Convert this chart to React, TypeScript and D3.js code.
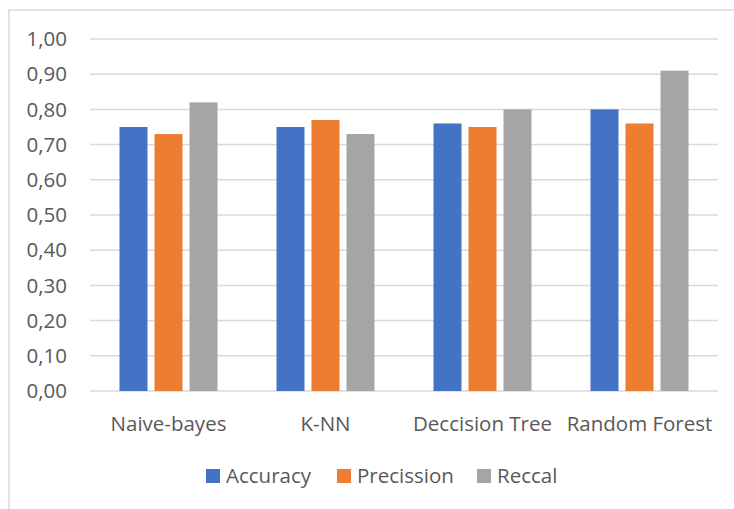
import React from 'react';
import * as d3 from 'd3';

const categories = ['Naive-bayes', 'K-NN', 'Deccision Tree', 'Random Forest'];
const seriesNames = ['Accuracy', 'Precission', 'Reccal'];
const accuracy = [0.75, 0.75, 0.76, 0.8];
const precission = [0.73, 0.77, 0.75, 0.76];
const reccal = [0.82, 0.73, 0.8, 0.91];
const yTicks = [0, 0.1, 0.2, 0.3, 0.4, 0.5, 0.6, 0.7, 0.8, 0.9, 1.0];
const colors = ['#4472c4', '#ed7d31', '#a5a5a5'];

const W = 734;
const H = 509;
const FONT = "'Open Sans', 'Liberation Sans', sans-serif";
const TEXT = '#595959';
const FS = 20.5;

export default function App() {
  const series = [accuracy, precission, reccal];
  const plot = { left: 90, right: 718, top: 39, bottom: 391 };

  const x0 = d3.scaleBand<string>()
    .domain(categories)
    .range([plot.left, plot.right])
    .paddingInner(0)
    .paddingOuter(0);

  // bars are 28px with a 7px gap, centred in each band
  const groupWidth = 98;
  const x1 = d3.scaleBand<string>()
    .domain(seriesNames)
    .range([0, groupWidth])
    .paddingInner(0.2);

  const y = d3.scaleLinear().domain([0, 1]).range([plot.bottom, plot.top]);
  const fmt = (v: number) => v.toFixed(2).replace('.', ',');

  const legendX = [206, 337, 477];

  return (
    <svg
      width={W}
      height={H}
      style={{ position: 'fixed', left: 0, top: 0, background: '#fff' }}
      fontFamily={FONT}
    >
      <rect x={9} y={10} width={760} height={520} fill="#fff" stroke="#d9d9d9" strokeWidth={1.5} />

      {yTicks.map((t) => (
        <g key={t}>
          <line x1={plot.left} x2={plot.right} y1={y(t)} y2={y(t)} stroke="#d9d9d9" strokeWidth={1.5} />
          <text x={67} y={y(t)} dy="0.35em" textAnchor="end" fontSize={FS} fill={TEXT}>
            {fmt(t)}
          </text>
        </g>
      ))}

      {categories.map((c, i) => {
        const gx = x0(c)! + (x0.bandwidth() - groupWidth) / 2;
        return (
          <g key={c} transform={`translate(${gx},0)`}>
            {series.map((s, k) => (
              <rect
                key={k}
                x={x1(seriesNames[k])}
                y={y(s[i])}
                width={x1.bandwidth()}
                height={y(0) - y(s[i])}
                fill={colors[k]}
              />
            ))}
          </g>
        );
      })}

      {categories.map((c) => (
        <text
          key={c}
          x={x0(c)! + x0.bandwidth() / 2}
          y={431}
          textAnchor="middle"
          fontSize={FS}
          fill={TEXT}
        >
          {c}
        </text>
      ))}

      {seriesNames.map((n, k) => (
        <g key={n} transform={`translate(${legendX[k]},469)`}>
          <rect width={14} height={14} fill={colors[k]} />
          <text x={20} y={7} dy="0.35em" fontSize={FS} fill={TEXT}>
            {n}
          </text>
        </g>
      ))}
    </svg>
  );
}
